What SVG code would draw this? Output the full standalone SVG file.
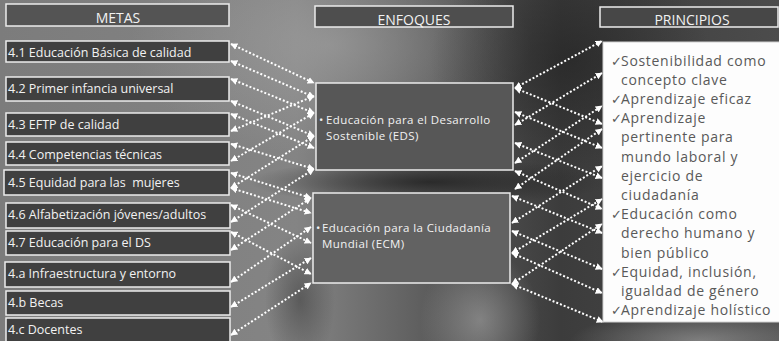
<svg xmlns="http://www.w3.org/2000/svg" width="779" height="341" viewBox="0 0 779 341">
<style>
.meta{fill:#404040;stroke:#ececec;stroke-width:1.5}
.hdr{stroke:#ececec;stroke-width:1.5}
.mt{font-family:"Open Sans","DejaVu Sans",sans-serif;font-size:12.5px;fill:#f2f2f2}
.et{font-family:"Open Sans","DejaVu Sans",sans-serif;font-size:11.5px;letter-spacing:0.4px;fill:#f2f2f2}
.ht{font-family:"Open Sans","DejaVu Sans",sans-serif;font-size:14px;fill:#f2f2f2;text-anchor:middle}
.pt{font-family:"Open Sans","DejaVu Sans",sans-serif;font-size:14px;letter-spacing:0.7px;fill:#595959}
.ck{font-family:"DejaVu Sans",sans-serif;font-size:13px;fill:#595959}
.cn line{stroke:#ffffff;stroke-width:2;stroke-dasharray:2 2;marker-start:url(#ah);marker-end:url(#ah)}
</style>
<defs>
<marker id="ah" viewBox="0 0 10 10" refX="9" refY="5" markerWidth="7" markerHeight="7" markerUnits="userSpaceOnUse" orient="auto-start-reverse">
<path d="M0,0 L10,5 L0,10 z" fill="#ffffff"/>
</marker>
<linearGradient id="bg" x1="0" y1="0" x2="1" y2="0">
<stop offset="0" stop-color="#7c7c7c"/>
<stop offset="0.38" stop-color="#848484"/>
<stop offset="0.56" stop-color="#5a5a5a"/>
<stop offset="0.72" stop-color="#3c3c3c"/>
<stop offset="1" stop-color="#4c4c4c"/>
</linearGradient>
<radialGradient id="lt">
<stop offset="0" stop-color="#a4a4a4" stop-opacity="0.6"/>
<stop offset="1" stop-color="#a4a4a4" stop-opacity="0"/>
</radialGradient>
<radialGradient id="dk">
<stop offset="0" stop-color="#1e1e1e" stop-opacity="0.8"/>
<stop offset="1" stop-color="#1e1e1e" stop-opacity="0"/>
</radialGradient>
</defs>
<rect x="0" y="0" width="779" height="341" fill="url(#bg)"/>
<ellipse cx="330" cy="45" rx="200" ry="110" fill="url(#lt)"/>
<ellipse cx="570" cy="60" rx="140" ry="120" fill="url(#dk)" opacity="0.7"/>
<ellipse cx="430" cy="182" rx="180" ry="24" fill="url(#dk)"/>
<ellipse cx="480" cy="320" rx="60" ry="70" fill="url(#lt)"/>
<ellipse cx="700" cy="341" rx="130" ry="30" fill="url(#lt)"/>
<ellipse cx="300" cy="300" rx="35" ry="70" fill="url(#dk)" opacity="0.5"/>

<g id="connectors" class="cn">
<line x1="231" y1="44" x2="314" y2="83"/>
<line x1="231" y1="61" x2="314" y2="97"/>
<line x1="231" y1="79" x2="314" y2="113"/>
<line x1="231" y1="101" x2="314" y2="136"/>
<line x1="231" y1="114" x2="314" y2="148"/>
<line x1="231" y1="144" x2="314" y2="169"/>
<line x1="231" y1="173" x2="311" y2="198"/>
<line x1="231" y1="188" x2="311" y2="213"/>
<line x1="231" y1="205" x2="311" y2="243"/>
<line x1="231" y1="232" x2="311" y2="274"/>
<line x1="231" y1="131" x2="314" y2="96"/>
<line x1="231" y1="161" x2="314" y2="113"/>
<line x1="231" y1="188" x2="314" y2="136"/>
<line x1="231" y1="222" x2="314" y2="169"/>
<line x1="231" y1="250" x2="311" y2="198"/>
<line x1="231" y1="282" x2="311" y2="227"/>
<line x1="231" y1="307" x2="311" y2="258"/>
<line x1="231" y1="335" x2="311" y2="283"/>
<line x1="515" y1="88" x2="602" y2="41"/>
<line x1="515" y1="125" x2="602" y2="73"/>
<line x1="515" y1="163" x2="602" y2="106"/>
<line x1="515" y1="189" x2="602" y2="129"/>
<line x1="512" y1="223" x2="602" y2="166"/>
<line x1="512" y1="253" x2="602" y2="199"/>
<line x1="512" y1="284" x2="602" y2="224"/>
<line x1="515" y1="88" x2="602" y2="124"/>
<line x1="515" y1="112" x2="602" y2="148"/>
<line x1="515" y1="143" x2="602" y2="178"/>
<line x1="515" y1="171" x2="602" y2="209"/>
<line x1="512" y1="196" x2="602" y2="233"/>
<line x1="512" y1="231" x2="602" y2="269"/>
<line x1="512" y1="253" x2="602" y2="293"/>
<line x1="512" y1="284" x2="603" y2="322"/>
</g>

<g id="metas-header"><rect class="hdr" x="6" y="4" width="223" height="22" fill="#545454"/><text class="ht" x="118" y="22.5">METAS</text></g>
<g id="meta-4-1"><rect class="meta" x="6" y="41" width="223" height="21" fill="#4a4a4a"/><text class="mt" x="8" y="57">4.1 Educación Básica de calidad</text></g>
<g id="meta-4-2"><rect class="meta" x="6" y="77" width="223" height="24"/><text class="mt" x="8" y="93">4.2 Primer infancia universal</text></g>
<g id="meta-4-3"><rect class="meta" x="6" y="113" width="223" height="23"/><text class="mt" x="8" y="129">4.3 EFTP de calidad</text></g>
<g id="meta-4-4"><rect class="meta" x="6" y="142" width="223" height="23"/><text class="mt" x="8" y="159">4.4 Competencias técnicas</text></g>
<g id="meta-4-5"><rect class="meta" x="4" y="170" width="225" height="25"/><text class="mt" x="8" y="187" xml:space="preserve">4.5 Equidad para las  mujeres</text></g>
<g id="meta-4-6"><rect class="meta" x="6" y="203" width="224" height="25"/><text class="mt" x="8" y="219">4.6 Alfabetización jóvenes/adultos</text></g>
<g id="meta-4-7"><rect class="meta" x="6" y="231" width="224" height="24"/><text class="mt" x="8" y="247">4.7 Educación para el DS</text></g>
<g id="meta-4-a"><rect class="meta" x="5" y="262" width="225" height="25"/><text class="mt" x="8" y="278">4.a Infraestructura y entorno</text></g>
<g id="meta-4-b"><rect class="meta" x="6" y="291" width="224" height="24"/><text class="mt" x="8" y="307">4.b Becas</text></g>
<g id="meta-4-c"><rect class="meta" x="6" y="318" width="224" height="25"/><text class="mt" x="8" y="334">4.c Docentes</text></g>

<g id="enfoques-header"><rect class="hdr" x="315" y="6" width="198" height="21" fill="#4e4e4e"/><text class="ht" x="414" y="24.5">ENFOQUES</text></g>
<g id="eds"><rect class="hdr" x="316" y="83" width="197" height="87" fill="#575757"/><text class="et" x="319" y="124">•<tspan x="326">Educación para el Desarrollo</tspan><tspan x="326" dy="16">Sostenible (EDS)</tspan></text></g>
<g id="ecm"><rect class="hdr" x="313" y="193" width="197" height="90" fill="#626262"/><text class="et" x="316" y="232">•<tspan x="322">Educación para la Ciudadanía</tspan><tspan x="322" dy="16">Mundial (ECM)</tspan></text></g>

<g id="principios-header"><rect class="hdr" x="600" y="7" width="178" height="20" fill="#474747"/><text class="ht" x="692" y="24.5">PRINCIPIOS</text></g>
<g id="principios">
<rect x="603" y="42" width="178" height="280" fill="#fdfdfd" stroke="#d0d0d0" stroke-width="1"/>
<text class="ck" x="611" y="65.6">✓</text><text class="pt" x="621" y="65.6">Sostenibilidad como</text>
<text class="pt" x="621" y="84.8">concepto clave</text>
<text class="ck" x="611" y="104">✓</text><text class="pt" x="621" y="104">Aprendizaje eficaz</text>
<text class="ck" x="611" y="123.2">✓</text><text class="pt" x="621" y="123.2">Aprendizaje</text>
<text class="pt" x="621" y="142.4">pertinente para</text>
<text class="pt" x="621" y="161.6">mundo laboral y</text>
<text class="pt" x="621" y="180.8">ejercicio de</text>
<text class="pt" x="621" y="200">ciudadanía</text>
<text class="ck" x="611" y="219.2">✓</text><text class="pt" x="621" y="219.2">Educación como</text>
<text class="pt" x="621" y="238.4">derecho humano y</text>
<text class="pt" x="621" y="257.6">bien público</text>
<text class="ck" x="611" y="276.8">✓</text><text class="pt" x="621" y="276.8">Equidad, inclusión,</text>
<text class="pt" x="621" y="296">igualdad de género</text>
<text class="ck" x="611" y="315.2">✓</text><text class="pt" x="621" y="315.2">Aprendizaje holístico</text>
</g>
</svg>
